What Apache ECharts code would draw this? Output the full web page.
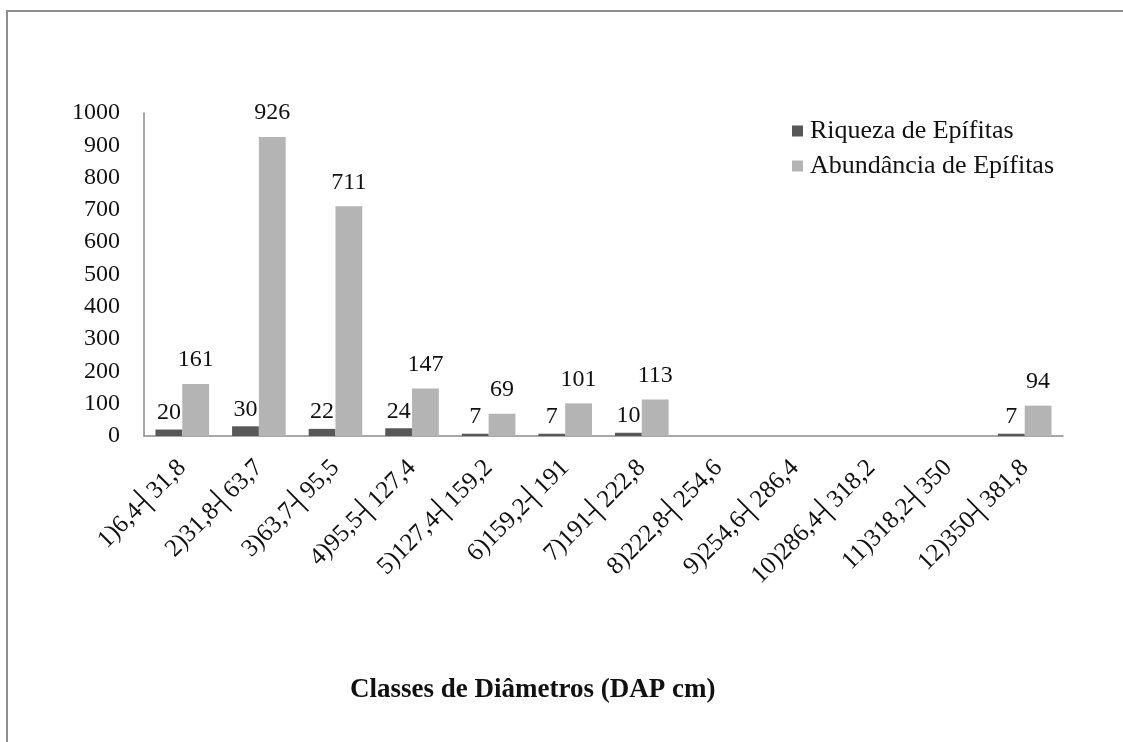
<!DOCTYPE html>
<html>
<head>
<meta charset="utf-8">
<script src="https://cdn.jsdelivr.net/npm/echarts@6/dist/echarts.min.js"></script>
<style>
  html, body { margin: 0; padding: 0; background: #fff; }
  #chart { width: 1123px; height: 742px; }
</style>
</head>
<body>
<div id="chart"></div>
<script>
const categories = ['1)6,4┤31,8', '2)31,8┤63,7', '3)63,7┤95,5', '4)95,5┤127,4', '5)127,4┤159,2', '6)159,2┤191',
  '7)191┤222,8', '8)222,8┤254,6', '9)254,6┤286,4', '10)286,4┤318,2', '11)318,2┤350', '12)350┤381,8'];
const riqueza = [20, 30, 22, 24, 7, 7, 10, null, null, null, null, 7];
const abundancia = [161, 926, 711, 147, 69, 101, 113, null, null, null, null, 94];
const yTicks = [0, 100, 200, 300, 400, 500, 600, 700, 800, 900, 1000];

const serif = '"Liberation Serif", "DejaVu Serif", serif';
const chart = echarts.init(document.getElementById('chart'));

chart.setOption({
  backgroundColor: '#fff',
  textStyle: { fontFamily: serif },
  // x axis title, placed left of the plot centre as in the original figure
  title: {
    text: 'Classes de Diâmetros (DAP cm)',
    left: 350,
    top: 677,
    padding: 0,
    textStyle: { fontFamily: serif, fontSize: 27, fontWeight: 'bold', color: '#111' }
  },
  graphic: [
    {
      // frame of the original figure (cropped on the right and bottom)
      type: 'rect',
      shape: { x: 7, y: 11, width: 1200, height: 800 },
      style: { fill: 'none', stroke: '#8e8e8e', lineWidth: 2 }
    }
  ],
  legend: {
    orient: 'vertical',
    left: 787,
    top: 113,
    itemGap: 9,
    itemWidth: 11,
    itemHeight: 11,
    icon: 'rect',
    textStyle: { fontFamily: serif, fontSize: 26, color: '#111', padding: [0, 0, 0, 2] },
    data: ['Riqueza de Epífitas', 'Abundância de Epífitas']
  },
  grid: { left: 144, right: 60, top: 113, bottom: 306 },
  xAxis: {
    type: 'category',
    data: categories,
    axisLine: { lineStyle: { color: '#8a8a8a', width: 1.5 } },
    axisTick: { show: false },
    axisLabel: {
      interval: 0,
      rotate: 45,
      margin: 28,
      fontFamily: serif,
      fontSize: 25,
      color: '#111'
    }
  },
  yAxis: {
    type: 'value',
    min: 0,
    max: 1000,
    interval: 100,
    axisLine: { show: true, lineStyle: { color: '#8a8a8a', width: 1.5 } },
    axisTick: { show: false },
    splitLine: { show: false },
    axisLabel: {
      margin: 24,
      fontFamily: serif,
      fontSize: 24,
      color: '#111',
      formatter: function (v) { return yTicks.indexOf(v) >= 0 ? String(v) : ''; }
    }
  },
  series: [
    {
      name: 'Riqueza de Epífitas',
      type: 'bar',
      data: riqueza,
      barGap: '0%',
      barCategoryGap: '30%',
      itemStyle: { color: '#585858' },
      label: {
        show: true,
        position: 'top',
        distance: 5,
        fontFamily: serif,
        fontSize: 24,
        color: '#111'
      }
    },
    {
      name: 'Abundância de Epífitas',
      type: 'bar',
      data: abundancia,
      barGap: '0%',
      barCategoryGap: '30%',
      itemStyle: { color: '#b4b4b4' },
      label: {
        show: true,
        position: 'top',
        distance: 12,
        fontFamily: serif,
        fontSize: 24,
        color: '#111'
      }
    }
  ]
});
</script>
</body>
</html>
